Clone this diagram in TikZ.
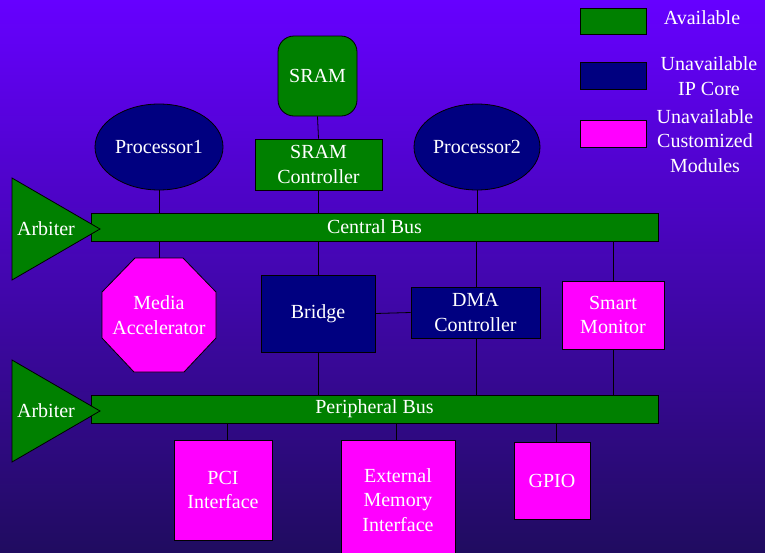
\documentclass[tikz,border=0pt]{standalone}
\usepackage{fontspec}
\setmainfont{Liberation Serif}
\usetikzlibrary{shapes.geometric,calc}
\definecolor{bgtop}{RGB}{102,0,255}
\definecolor{bgmid}{RGB}{84,4,214}
\definecolor{bgbot}{RGB}{32,12,96}
\definecolor{avail}{RGB}{0,128,0}
\definecolor{ipcore}{RGB}{0,0,128}
\definecolor{custom}{RGB}{255,0,255}
\tikzset{
  every node/.style={font=\rmfamily\fontsize{20}{24.5}\selectfont, text=white, align=center, inner sep=0pt},
  box/.style={draw=black, line width=0.8pt, rectangle},
  availbox/.style={box, fill=avail},
  ipbox/.style={box, fill=ipcore},
  custbox/.style={box, fill=custom},
  wire/.style={draw=black, line width=0.8pt},
}
\begin{document}
\begin{tikzpicture}[x=1pt,y=-1pt]
\useasboundingbox (0,0) rectangle (765,552);
\shade[top color=bgtop, middle color=bgmid, bottom color=bgbot] (0,0) rectangle (765,552);

% legend
\node[availbox, minimum width=66pt, minimum height=26pt] (leg1) at (613,21) {};
\node (leg1t) at (702,18) {Available};
\node[ipbox, minimum width=66pt, minimum height=27pt] (leg2) at (613,75.5) {};
\node (leg2t) at (709,76) {Unavailable\\IP Core};
\node[custbox, minimum width=66pt, minimum height=27pt] (leg3) at (613,133.5) {};
\node (leg3t) at (705,141) {Unavailable\\Customized\\Modules};

% top
\node[availbox, rounded corners=16pt, minimum width=79pt, minimum height=80pt] (sram) at (317.5,76) {SRAM};
\node[availbox, minimum width=127pt, minimum height=51pt] (ctrl) at (318.5,164.5) {SRAM\\Controller};
\node[box, ellipse, fill=ipcore, minimum width=128pt, minimum height=86pt] (p1) at (159,147) {Processor1};
\node[box, ellipse, fill=ipcore, minimum width=126pt, minimum height=86pt] (p2) at (477,147) {Processor2};

% buses
\node[availbox, minimum width=567pt, minimum height=28pt] (cbus) at (374.5,227) {Central Bus};
\node[availbox, minimum width=567pt, minimum height=28pt] (pbus) at (374.5,409) {Peripheral Bus};

% arbiters
\filldraw[fill=avail, draw=black, line width=0.8pt] (12,178) -- (100,229) -- (12,280) -- cycle;
\node (arb1) at (46,229) {Arbiter};
\filldraw[fill=avail, draw=black, line width=0.8pt] (12,360) -- (100,411) -- (12,462) -- cycle;
\node (arb2) at (46,411) {Arbiter};

% middle
\filldraw[fill=custom, draw=black, line width=0.8pt] (135,258) -- (183,258) -- (216,292) -- (216,338) -- (184,372) -- (134,372) -- (102,338) -- (102,292) -- cycle;
\node (media) at (159,315) {Media\\Accelerator};
\coordinate (mediatop) at (159,258);
\node[ipbox, minimum width=114pt, minimum height=77pt] (bridge) at (318,313.5) {Bridge};
\node[ipbox, minimum width=129pt, minimum height=51pt] (dma) at (475.5,312.5) {DMA\\Controller};
\node[custbox, minimum width=102pt, minimum height=68pt] (smart) at (613,315) {Smart\\Monitor};

% bottom
\node[custbox, minimum width=98pt, minimum height=100pt] (pci) at (223,490) {PCI\\Interface};
\node[custbox, minimum width=114pt, minimum height=120pt] (ext) at (398,500) {External\\Memory\\Interface};
\node[custbox, minimum width=76pt, minimum height=77pt] (gpio) at (552,480.5) {GPIO};

% connector x positions
\coordinate (xpci) at (227,0);
\coordinate (xext) at (396,0);
\coordinate (xgpio) at (556,0);
\coordinate (xdma) at (476,0);

% connectors
\draw[wire] (sram.south) -- (ctrl.north);
\draw[wire] (ctrl.south) -- (cbus.north -| ctrl.south);
\draw[wire] (p1.south) -- (cbus.north -| p1.south);
\draw[wire] (p2.south) -- (cbus.north -| p2.south);
\draw[wire] (cbus.south -| mediatop) -- (mediatop);
\draw[wire] (cbus.south -| bridge.north) -- (bridge.north);
\draw[wire] (cbus.south -| xdma) -- (dma.north -| xdma);
\draw[wire] (cbus.south -| smart.north) -- (smart.north);
\draw[wire] (bridge.south) -- (pbus.north -| bridge.south);
\draw[wire] (dma.south -| xdma) -- (pbus.north -| xdma);
\draw[wire] (smart.south) -- (pbus.north -| smart.south);
\draw[wire] (bridge.east) -- (dma.west);
\draw[wire] (pbus.south -| xpci) -- (pci.north -| xpci);
\draw[wire] (pbus.south -| xext) -- (ext.north -| xext);
\draw[wire] (pbus.south -| xgpio) -- (gpio.north -| xgpio);
\end{tikzpicture}
\end{document}
